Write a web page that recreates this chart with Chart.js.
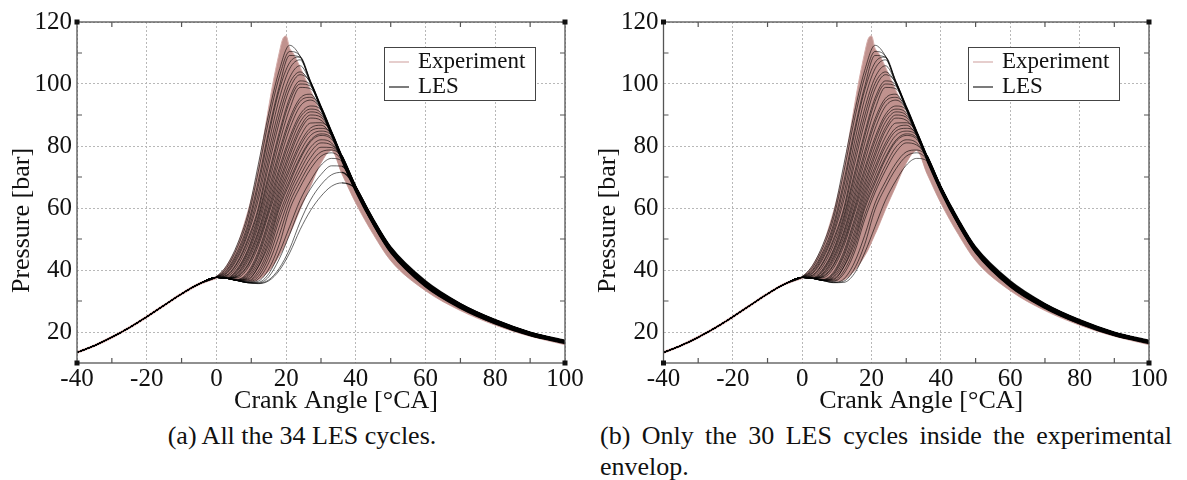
<!DOCTYPE html>
<html><head><meta charset="utf-8">
<script src="https://cdn.jsdelivr.net/npm/chart.js@4.4.1/dist/chart.umd.min.js"></script>
<style>
html,body{margin:0;padding:0;background:#fff;}
#wrap{position:relative;width:1187px;height:480px;overflow:hidden;background:#fff;}
.pane{position:absolute;top:0;height:420px;}
#pa{left:0;width:585px;}
#pb{left:585px;width:602px;}
.cap{position:absolute;font-family:"Liberation Serif",serif;font-size:26px;line-height:31px;color:#111;}
#capa{left:0;width:604px;top:420px;text-align:center;}
#capb{left:600px;width:572px;top:420px;text-align:justify;text-align-last:left;}
</style></head>
<body>
<div id="wrap">
  <div class="pane" id="pa"><canvas id="ca"></canvas></div>
  <div class="pane" id="pb"><canvas id="cb"></canvas></div>
  <div class="cap" id="capa">(a) All the 34 LES cycles.</div>
  <div class="cap" id="capb">(b) Only the 30 LES cycles inside the experimental envelop.</div>
</div>
<script>
// ---- axes / labels ----
const xTitle = 'Crank Angle [°CA]';
const yTitle = 'Pressure [bar]';
const legendLabels = ['Experiment', 'LES'];

// ---- common compression stroke (crank angle, pressure) ----
const compAngles = [-40, -35, -30, -25, -20, -15, -10, -5];
const compression = [13.4, 15.6, 18.3, 21.4, 24.9, 28.6, 32.3, 35.5];

// ---- LES cycles, sampled at these crank angles ----
const cycleAngles = [0, 3, 6, 9, 12, 15, 18, 21, 24, 27, 30, 33, 36, 40, 45, 50, 60, 70, 80, 90, 100];
const les01 = [37.9, 41.5, 48.3, 58, 74, 90.5, 104.3, 112.5, 109, 101, 93, 85, 77, 67, 56.5, 47.5, 36.5, 29.2, 24, 20, 17.3];
const les02 = [37.8, 40.8, 47.3, 56.5, 71.7, 88.2, 102.1, 110.5, 109, 100.7, 92.6, 84.6, 76.6, 66.6, 56.1, 47.1, 36.1, 28.9, 23.8, 19.8, 17.1];
const les03 = [37.7, 40.1, 46, 54.7, 68.6, 84.9, 99.1, 109.2, 108.6, 100.4, 92.4, 84.4, 76.4, 66.4, 55.6, 46.6, 35.6, 28.5, 23.4, 19.5, 16.9];
const les04 = [37.7, 39.7, 45.2, 53.6, 66.9, 83.5, 97.9, 106.9, 108.7, 100.8, 92.8, 84.8, 76.8, 66.8, 56.2, 47.2, 36.2, 29, 23.8, 19.8, 17.1];
const les05 = [37.7, 39.2, 44.4, 52.4, 64.5, 80.8, 95.1, 104.9, 107.8, 100, 92, 84, 76, 66, 55.3, 46.3, 35.3, 28.2, 23.2, 19.3, 16.7];
const les06 = [37.6, 38.9, 43.7, 51.5, 62.6, 78.2, 92, 102.1, 105.9, 100.5, 92.5, 84.5, 76.5, 66.5, 55.8, 46.8, 35.8, 28.6, 23.5, 19.6, 17];
const les07 = [37.6, 38.4, 42.6, 50, 60, 75.8, 89.7, 100.2, 103.9, 100.2, 92.2, 84.2, 76.2, 66.2, 55.5, 46.5, 35.5, 28.4, 23.3, 19.4, 16.8];
const les08 = [37.6, 38.2, 42.2, 49.2, 59, 73.7, 87.5, 98.4, 103, 100.6, 92.6, 84.6, 76.6, 66.6, 55.9, 46.9, 35.9, 28.7, 23.6, 19.7, 17];
const les09 = [37.6, 37.9, 41.3, 48, 57.5, 71, 84.3, 95.5, 101, 99.7, 91.7, 83.7, 75.7, 65.7, 54.9, 45.9, 34.9, 27.9, 22.9, 19, 16.5];
const les10 = [37.6, 37.6, 40.4, 46.6, 56.5, 69.6, 83, 94.3, 100, 99.3, 92.1, 84.1, 76.1, 66.1, 55.4, 46.4, 35.4, 28.3, 23.2, 19.4, 16.8];
const les11 = [37.6, 37.4, 40, 46, 55.3, 67.8, 80.8, 91.9, 98.9, 98.5, 92.4, 84.4, 76.4, 66.4, 55.7, 46.7, 35.7, 28.6, 23.4, 19.5, 16.9];
const les12 = [37.6, 37.3, 39.6, 45.2, 54.1, 66, 78.2, 88.8, 95.4, 96.7, 91.5, 83.5, 75.5, 65.5, 54.7, 45.7, 34.7, 27.8, 22.7, 18.9, 16.4];
const les13 = [37.6, 37.3, 39, 44.3, 52.6, 64.3, 76.8, 87.6, 94.4, 95.7, 92.7, 84.7, 76.7, 66.7, 56.1, 47.1, 36.1, 28.9, 23.7, 19.8, 17.1];
const les14 = [37.6, 37.3, 38.7, 43.6, 51.8, 62.9, 74.9, 85.5, 92.8, 94.8, 92, 84, 76, 66, 55.2, 46.2, 35.2, 28.2, 23.1, 19.2, 16.7];
const les15 = [37.6, 37.3, 38.3, 42.8, 50.7, 61.5, 72.8, 82.8, 90.2, 92.9, 91.7, 84.3, 76.3, 66.3, 55.5, 46.5, 35.5, 28.4, 23.3, 19.4, 16.8];
const les16 = [37.6, 37.3, 38, 41.8, 49.5, 60, 71.5, 81.6, 89.2, 91.9, 90.7, 83.1, 75.1, 65.1, 54.5, 45.5, 34.5, 27.6, 22.6, 18.8, 16.3];
const les17 = [37.6, 37.3, 37.8, 41.4, 48.7, 59, 69.9, 79.8, 87.7, 91, 90, 84.5, 76.5, 66.5, 55.9, 46.9, 35.9, 28.7, 23.6, 19.7, 17];
const les18 = [37.6, 37.3, 37.5, 40.6, 47.7, 58, 68.3, 78, 86, 90, 89.3, 83.8, 75.8, 65.8, 55.1, 46.1, 35.1, 28.1, 23, 19.2, 16.6];
const les19 = [37.6, 37.3, 37, 39.3, 46, 56.2, 67, 76.7, 84.9, 89, 88.3, 84.2, 76.2, 66.2, 55.5, 46.5, 35.5, 28.4, 23.3, 19.4, 16.8];
const les20 = [37.6, 37.3, 36.9, 38.8, 45.1, 55.1, 65.6, 75, 82.9, 87.4, 87.5, 84.6, 76.6, 66.6, 56, 47, 36, 28.8, 23.6, 19.7, 17];
const les21 = [37.6, 37.3, 36.8, 38.4, 44.3, 53.8, 64.4, 73.3, 81, 85.8, 86.7, 83.4, 75.4, 65.4, 54.8, 45.8, 34.8, 27.8, 22.8, 19, 16.5];
const les22 = [37.6, 37.3, 36.7, 37.9, 43.1, 52.2, 63.1, 72.1, 79.9, 84.8, 85.7, 84, 76.1, 66.1, 55.4, 46.4, 35.4, 28.3, 23.2, 19.4, 16.8];
const les23 = [37.6, 37.3, 36.7, 37.5, 42.1, 50.9, 61.8, 70.5, 78.1, 83.4, 84.8, 83.4, 76.7, 66.7, 56.1, 47.1, 36.1, 28.9, 23.7, 19.8, 17.1];
const les24 = [37.6, 37.3, 36.7, 37.1, 41.1, 49.5, 60.6, 69, 76.4, 81.9, 83.9, 82.7, 75.6, 65.6, 55, 46, 35, 28, 23, 19.1, 16.6];
const les25 = [37.6, 37.3, 36.6, 36.8, 41, 48.3, 59.6, 68, 75.7, 81.4, 83.4, 82.2, 76.4, 66.4, 55.8, 46.8, 35.8, 28.6, 23.5, 19.6, 17];
const les26 = [37.6, 37.3, 36.6, 36.5, 39.7, 46.9, 57.8, 66.4, 73.7, 79.6, 82, 81, 75.9, 65.9, 55.2, 46.2, 35.2, 28.2, 23.1, 19.2, 16.7];
const les27 = [37.6, 37.3, 36.6, 36.3, 38.8, 45.5, 56.2, 65, 72.1, 78, 81, 80.3, 76.8, 66.8, 56.2, 47.2, 36.2, 29, 23.8, 19.8, 17.1];
const les28 = [37.6, 37.3, 36.6, 36.1, 37.9, 44, 53.8, 63.4, 70.3, 76.2, 79.6, 79.5, 76, 66, 55.3, 46.3, 35.3, 28.3, 23.2, 19.3, 16.7];
const les29 = [37.6, 37.3, 36.6, 36, 37.1, 42.3, 51.1, 61.6, 68.5, 74.4, 78.1, 78.7, 76.5, 66.5, 55.9, 46.9, 35.9, 28.7, 23.6, 19.7, 17];
const les30 = [37.6, 37.3, 36.6, 36, 36.4, 40.3, 48.2, 59.5, 66.7, 72.6, 76.7, 77.8, 75.5, 65.5, 54.9, 45.9, 34.9, 27.9, 22.9, 19, 16.5];
const les31 = [37.6, 37.3, 36.6, 35.9, 36, 38.8, 45.5, 54, 62.5, 68.8, 73.8, 76, 75.2, 66.6, 56.1, 47.1, 36.1, 28.9, 23.7, 19.8, 17.1];
const les32 = [37.6, 37.3, 36.6, 35.9, 35.8, 37.8, 43.5, 51.5, 60, 66.2, 70.8, 73.6, 73.5, 66.2, 55.5, 46.5, 35.5, 28.4, 23.3, 19.4, 16.8];
const les33 = [37.6, 37.3, 36.6, 35.9, 35.7, 36.8, 40.5, 46.8, 55.5, 62.6, 67.5, 70.7, 71.5, 66.7, 56, 47, 36, 28.8, 23.6, 19.7, 17];
const les34 = [37.6, 37.3, 36.6, 35.9, 35.6, 36.5, 39.8, 45.5, 53, 59.2, 63.8, 67, 68.1, 66.2, 56.3, 47.3, 36.3, 29.1, 23.9, 19.9, 17.2];

const allCycles = [les01, les02, les03, les04, les05, les06, les07, les08, les09, les10, les11, les12,
  les13, les14, les15, les16, les17, les18, les19, les20, les21, les22, les23, les24, les25, les26,
  les27, les28, les29, les30, les31, les32, les33, les34];
// the 30 cycles inside the experimental envelope (panel b)
const insideCycles = [les01, les02, les03, les04, les05, les06, les07, les08, les09, les10, les11, les12,
  les13, les14, les15, les16, les17, les18, les19, les20, les21, les22, les23, les24, les25, les26,
  les27, les29, les30, les31];

// ---- experimental envelope ----
const expAngles = [0, 2, 4, 6, 8, 10, 12, 14, 16, 18, 19, 20, 21, 22, 24, 27, 30, 33, 36, 40, 45, 50, 60, 70, 80, 90, 100];
const expUpper = [37.9, 40, 43.5, 48, 55, 63, 73, 86, 99, 110, 114.5, 115.5, 111.5, 110, 105.5, 98, 90.5, 82.5, 75, 65, 55, 46, 35.6, 28.6, 23.4, 19.5, 16.8];
const expLower = [37.5, 37.4, 37.2, 36.8, 36.5, 36.4, 36.8, 38.5, 41, 44.5, 46.5, 49, 51.5, 54, 59.5, 67, 74.5, 78.5, 71, 61.5, 51.5, 43, 33.3, 26.9, 22.2, 18.6, 15.9];

// ---- styling ----
const SERIF = '"Liberation Serif", "DejaVu Serif", serif';
const PINK_FILL = '#c0928e';
const PINK_LINE = '#d6aeab';
const FRAME = '#555';

function pts(xs, ys) { return xs.map((x, i) => ({ x: x, y: ys[i] })); }

const framePlugin = {
  id: 'frame',
  afterDatasetsDraw(chart) {
    const { ctx, chartArea: a, scales } = chart;
    const xs = scales.x, ys = scales.y;
    ctx.save();
    ctx.strokeStyle = FRAME;
    ctx.lineWidth = 1.3;
    ctx.strokeRect(a.left, a.top, a.right - a.left, a.bottom - a.top);
    ctx.lineWidth = 1.2;
    ctx.beginPath();
    xs.ticks.forEach(t => {
      if (t.value % 20 !== 0 && t.value > xs.min && t.value < xs.max) {
        const px = xs.getPixelForValue(t.value);
        ctx.moveTo(px, a.bottom); ctx.lineTo(px, a.bottom - 5);
        ctx.moveTo(px, a.top); ctx.lineTo(px, a.top + 5);
      }
    });
    ys.ticks.forEach(t => {
      if (t.value % 20 !== 0 && t.value > ys.min && t.value < ys.max) {
        const py = ys.getPixelForValue(t.value);
        ctx.moveTo(a.left, py); ctx.lineTo(a.left + 5, py);
        ctx.moveTo(a.right, py); ctx.lineTo(a.right - 5, py);
      }
    });
    ctx.stroke();
    ctx.fillStyle = '#111';
    [[a.left, a.top], [a.right, a.top], [a.left, a.bottom], [a.right, a.bottom]].forEach(c => {
      ctx.fillRect(c[0] - 2.5, c[1] - 2.5, 5, 5);
    });
    // legend box
    const bw = 151, bh = 53;
    const bx = a.right - 30 - bw, by = a.top + 25;
    ctx.fillStyle = '#fff';
    ctx.fillRect(bx, by, bw, bh);
    ctx.strokeStyle = '#444';
    ctx.lineWidth = 1;
    ctx.strokeRect(bx + 0.5, by + 0.5, bw, bh);
    ctx.lineWidth = 1.2;
    ctx.strokeStyle = PINK_LINE;
    ctx.beginPath(); ctx.moveTo(bx + 5, by + 15); ctx.lineTo(bx + 25, by + 15); ctx.stroke();
    ctx.strokeStyle = '#222';
    ctx.beginPath(); ctx.moveTo(bx + 5, by + 40); ctx.lineTo(bx + 25, by + 40); ctx.stroke();
    ctx.fillStyle = '#111';
    ctx.font = '23px ' + SERIF;
    ctx.textAlign = 'left';
    ctx.textBaseline = 'middle';
    ctx.fillText(legendLabels[0], bx + 34, by + 15);
    ctx.fillText(legendLabels[1], bx + 34, by + 40);
    // axis titles
    ctx.font = '26px ' + SERIF;
    ctx.textAlign = 'center';
    ctx.fillText(xTitle, (a.left + a.right) / 2 + 15, a.bottom + 38);
    ctx.save();
    ctx.translate(a.left - 55, (a.top + a.bottom) / 2 + 28);
    ctx.rotate(-Math.PI / 2);
    ctx.fillText(yTitle, 0, 0);
    ctx.restore();
    ctx.restore();
  }
};

function makeChart(id, cycles, yAxisWidth, padRight) {
  const datasets = [];
  datasets.push({ data: pts(expAngles, expUpper), borderColor: PINK_LINE, borderWidth: 1,
    backgroundColor: PINK_FILL, fill: '+1', order: 3 });
  datasets.push({ data: pts(expAngles, expLower), borderColor: PINK_LINE, borderWidth: 1,
    fill: false, order: 3 });
  datasets.push({ data: pts(compAngles.concat([0]), compression.concat([37.6])), borderColor: '#c99d9a',
    borderWidth: 2.6, fill: false, order: 2 });
  cycles.forEach(c => {
    datasets.push({ data: pts(compAngles.concat(cycleAngles), compression.concat(c)),
      borderColor: 'rgba(0,0,0,0.85)', borderWidth: 0.7, fill: false, order: 1,
      segment: { borderWidth: s => (s.p0.parsed.x >= 36 ? 1.3 : 0.7) } });
  });
  return new Chart(document.getElementById(id), {
    type: 'line',
    data: { datasets: datasets },
    options: {
      responsive: true, maintainAspectRatio: false, animation: false,
      layout: { padding: { top: 22, right: padRight, bottom: 0, left: 0 } },
      elements: { point: { radius: 0 }, line: { cubicInterpolationMode: 'monotone' } },
      plugins: { legend: { display: false }, tooltip: { enabled: false } },
      scales: {
        x: {
          type: 'linear', min: -40, max: 100,
          ticks: { stepSize: 10, autoSkip: false, maxRotation: 0, padding: 1, color: '#111',
            font: { family: SERIF, size: 25 },
            callback: v => (v % 20 === 0 ? String(v) : '') },
          grid: { color: c => (c.tick && c.tick.value % 20 === 0 ? '#b8b8b8' : 'rgba(0,0,0,0)'),
            drawTicks: false, lineWidth: 1 },
          border: { display: false, dash: [2, 2] },
          afterFit: s => { s.height = 57; }
        },
        y: {
          type: 'linear', min: 10, max: 120,
          ticks: { stepSize: 10, autoSkip: false, padding: 5, color: '#111',
            font: { family: SERIF, size: 25 },
            callback: v => (v % 20 === 0 ? String(v) : '') },
          grid: { color: c => (c.tick && c.tick.value % 20 === 0 ? '#b8b8b8' : 'rgba(0,0,0,0)'),
            drawTicks: false, lineWidth: 1 },
          border: { display: false, dash: [2, 2] },
          afterFit: s => { s.width = yAxisWidth; }
        }
      }
    },
    plugins: [framePlugin]
  });
}

function build() {
  makeChart('ca', allCycles, 77, 20);
  makeChart('cb', insideCycles, 78.5, 38);
}
const fontJobs = [
  document.fonts.load('25px "Liberation Serif"'),
  document.fonts.load('26px "Liberation Serif"')
];
Promise.all(fontJobs).then(build, build);
</script>
</body></html>
